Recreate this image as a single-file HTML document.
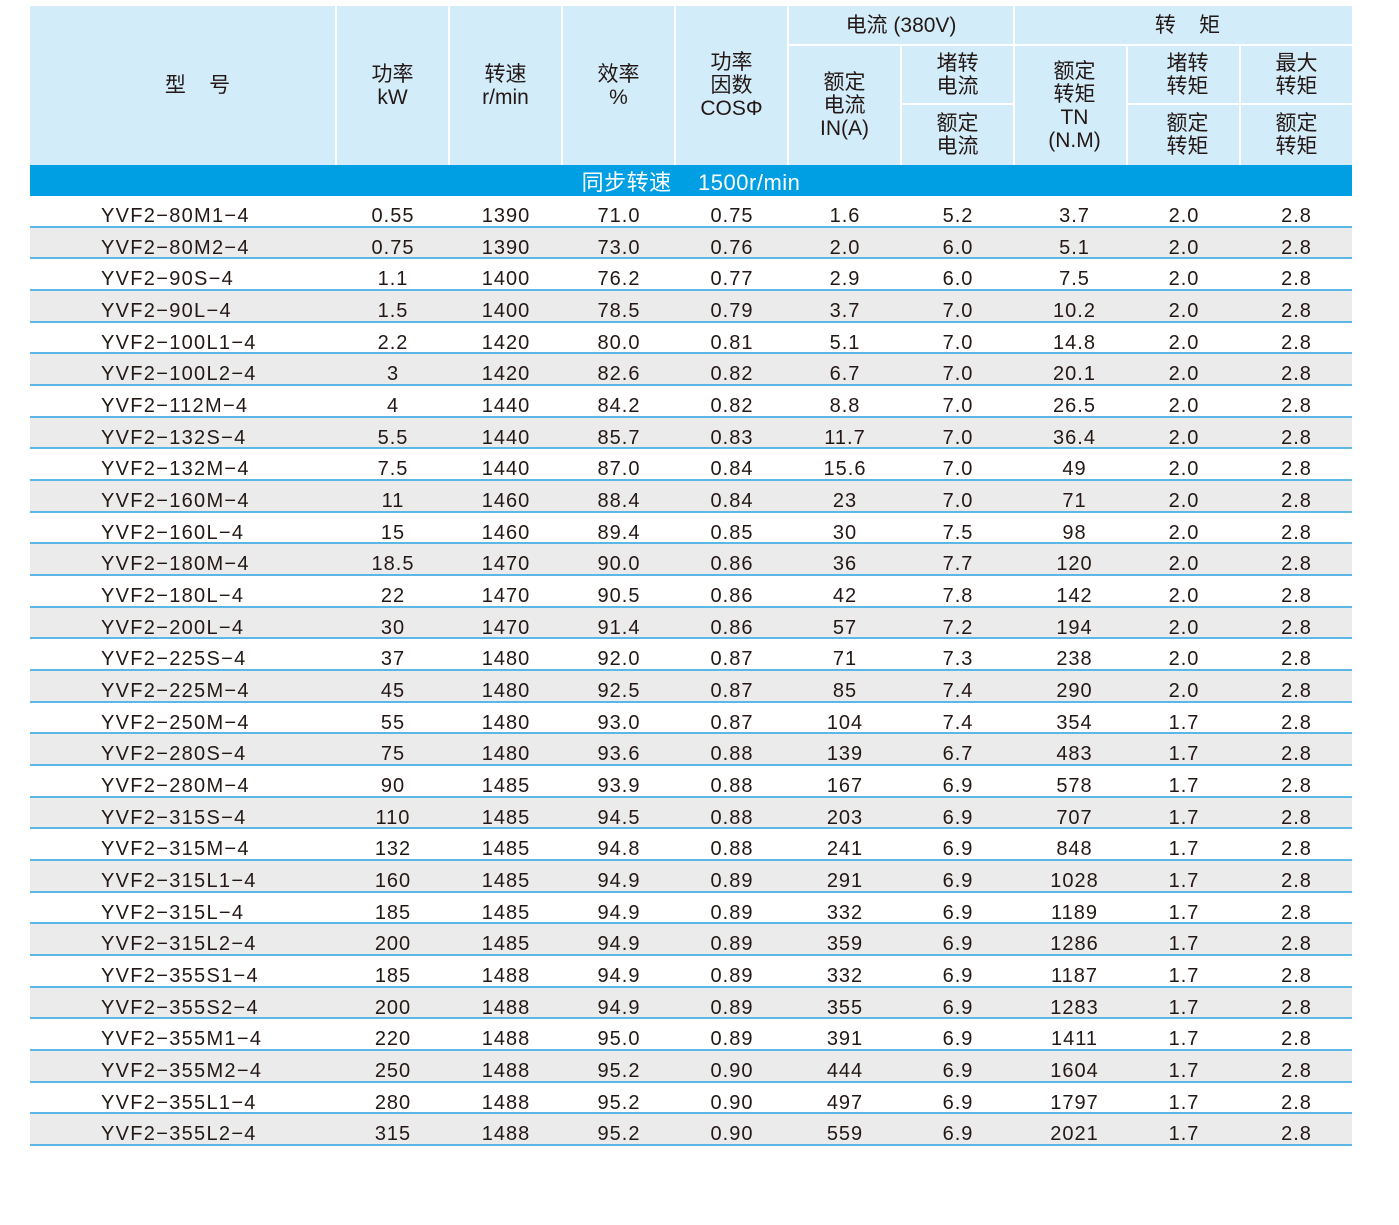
<!DOCTYPE html>
<html><head><meta charset="utf-8">
<style>
*{margin:0;padding:0;box-sizing:border-box}
body{width:1399px;height:1225px;background:#fff;position:relative;overflow:hidden;font-family:"Liberation Sans","Noto Sans CJK SC",sans-serif;color:#231815}
.h{position:absolute;background:#d3ecfa;display:flex;align-items:center;justify-content:center;text-align:center;font-size:21px;line-height:23px}
.band{position:absolute;left:30px;top:165px;width:1322px;height:31px;background:#009fe3;color:#fff;font-size:22px;line-height:36px;text-align:center;letter-spacing:0.5px}
.row{position:absolute;left:30px;width:1322px;height:31.67px;display:flex;border-bottom:2px solid #5bb8e6;font-size:20px;line-height:41px;letter-spacing:1px}
.row.g{background:#ebebeb}
.row div{width:113px;text-align:center;padding-left:1px}
.row div:first-child{width:306px;text-align:left;padding-left:71px;letter-spacing:1.3px}
.row div:nth-child(8){padding-left:8px}
.row div:last-child{width:112px}
</style></head><body>
<div class="h" style="left:30px;top:6px;width:305px;height:159px;padding-left:30px">型&nbsp;&nbsp;&nbsp;&nbsp;号</div>
<div class="h" style="left:337px;top:6px;width:111px;height:159px">功率<br>kW</div>
<div class="h" style="left:450px;top:6px;width:111px;height:159px">转速<br>r/min</div>
<div class="h" style="left:563px;top:6px;width:111px;height:159px">效率<br>%</div>
<div class="h" style="left:676px;top:6px;width:111px;height:159px">功率<br>因数<br>COSΦ</div>
<div class="h" style="left:789px;top:6px;width:224px;height:38px">电流 (380V)</div>
<div class="h" style="left:1015px;top:6px;width:337px;height:38px;padding-left:8px">转&nbsp;&nbsp;&nbsp;&nbsp;矩</div>
<div class="h" style="left:789px;top:46px;width:111px;height:119px">额定<br>电流<br>IN(A)</div>
<div class="h" style="left:902px;top:46px;width:111px;height:57px">堵转<br>电流</div>
<div class="h" style="left:902px;top:105px;width:111px;height:60px">额定<br>电流</div>
<div class="h" style="left:1015px;top:46px;width:111px;height:119px;padding-left:8px">额定<br>转矩<br>TN<br>(N.M)</div>
<div class="h" style="left:1128px;top:46px;width:111px;height:57px;padding-left:8px">堵转<br>转矩</div>
<div class="h" style="left:1128px;top:105px;width:111px;height:60px;padding-left:8px">额定<br>转矩</div>
<div class="h" style="left:1241px;top:46px;width:111px;height:57px">最大<br>转矩</div>
<div class="h" style="left:1241px;top:105px;width:111px;height:60px">额定<br>转矩</div>
<div class="band">同步转速&nbsp;&nbsp;&nbsp;&nbsp;1500r/min</div>
<div class="row" style="top:196.0px"><div>YVF2−80M1−4</div><div>0.55</div><div>1390</div><div>71.0</div><div>0.75</div><div>1.6</div><div>5.2</div><div>3.7</div><div>2.0</div><div>2.8</div></div>
<div class="row g" style="top:227.7px"><div>YVF2−80M2−4</div><div>0.75</div><div>1390</div><div>73.0</div><div>0.76</div><div>2.0</div><div>6.0</div><div>5.1</div><div>2.0</div><div>2.8</div></div>
<div class="row" style="top:259.3px"><div>YVF2−90S−4</div><div>1.1</div><div>1400</div><div>76.2</div><div>0.77</div><div>2.9</div><div>6.0</div><div>7.5</div><div>2.0</div><div>2.8</div></div>
<div class="row g" style="top:291.0px"><div>YVF2−90L−4</div><div>1.5</div><div>1400</div><div>78.5</div><div>0.79</div><div>3.7</div><div>7.0</div><div>10.2</div><div>2.0</div><div>2.8</div></div>
<div class="row" style="top:322.7px"><div>YVF2−100L1−4</div><div>2.2</div><div>1420</div><div>80.0</div><div>0.81</div><div>5.1</div><div>7.0</div><div>14.8</div><div>2.0</div><div>2.8</div></div>
<div class="row g" style="top:354.3px"><div>YVF2−100L2−4</div><div>3</div><div>1420</div><div>82.6</div><div>0.82</div><div>6.7</div><div>7.0</div><div>20.1</div><div>2.0</div><div>2.8</div></div>
<div class="row" style="top:386.0px"><div>YVF2−112M−4</div><div>4</div><div>1440</div><div>84.2</div><div>0.82</div><div>8.8</div><div>7.0</div><div>26.5</div><div>2.0</div><div>2.8</div></div>
<div class="row g" style="top:417.7px"><div>YVF2−132S−4</div><div>5.5</div><div>1440</div><div>85.7</div><div>0.83</div><div>11.7</div><div>7.0</div><div>36.4</div><div>2.0</div><div>2.8</div></div>
<div class="row" style="top:449.4px"><div>YVF2−132M−4</div><div>7.5</div><div>1440</div><div>87.0</div><div>0.84</div><div>15.6</div><div>7.0</div><div>49</div><div>2.0</div><div>2.8</div></div>
<div class="row g" style="top:481.0px"><div>YVF2−160M−4</div><div>11</div><div>1460</div><div>88.4</div><div>0.84</div><div>23</div><div>7.0</div><div>71</div><div>2.0</div><div>2.8</div></div>
<div class="row" style="top:512.7px"><div>YVF2−160L−4</div><div>15</div><div>1460</div><div>89.4</div><div>0.85</div><div>30</div><div>7.5</div><div>98</div><div>2.0</div><div>2.8</div></div>
<div class="row g" style="top:544.4px"><div>YVF2−180M−4</div><div>18.5</div><div>1470</div><div>90.0</div><div>0.86</div><div>36</div><div>7.7</div><div>120</div><div>2.0</div><div>2.8</div></div>
<div class="row" style="top:576.0px"><div>YVF2−180L−4</div><div>22</div><div>1470</div><div>90.5</div><div>0.86</div><div>42</div><div>7.8</div><div>142</div><div>2.0</div><div>2.8</div></div>
<div class="row g" style="top:607.7px"><div>YVF2−200L−4</div><div>30</div><div>1470</div><div>91.4</div><div>0.86</div><div>57</div><div>7.2</div><div>194</div><div>2.0</div><div>2.8</div></div>
<div class="row" style="top:639.4px"><div>YVF2−225S−4</div><div>37</div><div>1480</div><div>92.0</div><div>0.87</div><div>71</div><div>7.3</div><div>238</div><div>2.0</div><div>2.8</div></div>
<div class="row g" style="top:671.0px"><div>YVF2−225M−4</div><div>45</div><div>1480</div><div>92.5</div><div>0.87</div><div>85</div><div>7.4</div><div>290</div><div>2.0</div><div>2.8</div></div>
<div class="row" style="top:702.7px"><div>YVF2−250M−4</div><div>55</div><div>1480</div><div>93.0</div><div>0.87</div><div>104</div><div>7.4</div><div>354</div><div>1.7</div><div>2.8</div></div>
<div class="row g" style="top:734.4px"><div>YVF2−280S−4</div><div>75</div><div>1480</div><div>93.6</div><div>0.88</div><div>139</div><div>6.7</div><div>483</div><div>1.7</div><div>2.8</div></div>
<div class="row" style="top:766.1px"><div>YVF2−280M−4</div><div>90</div><div>1485</div><div>93.9</div><div>0.88</div><div>167</div><div>6.9</div><div>578</div><div>1.7</div><div>2.8</div></div>
<div class="row g" style="top:797.7px"><div>YVF2−315S−4</div><div>110</div><div>1485</div><div>94.5</div><div>0.88</div><div>203</div><div>6.9</div><div>707</div><div>1.7</div><div>2.8</div></div>
<div class="row" style="top:829.4px"><div>YVF2−315M−4</div><div>132</div><div>1485</div><div>94.8</div><div>0.88</div><div>241</div><div>6.9</div><div>848</div><div>1.7</div><div>2.8</div></div>
<div class="row g" style="top:861.1px"><div>YVF2−315L1−4</div><div>160</div><div>1485</div><div>94.9</div><div>0.89</div><div>291</div><div>6.9</div><div>1028</div><div>1.7</div><div>2.8</div></div>
<div class="row" style="top:892.7px"><div>YVF2−315L−4</div><div>185</div><div>1485</div><div>94.9</div><div>0.89</div><div>332</div><div>6.9</div><div>1189</div><div>1.7</div><div>2.8</div></div>
<div class="row g" style="top:924.4px"><div>YVF2−315L2−4</div><div>200</div><div>1485</div><div>94.9</div><div>0.89</div><div>359</div><div>6.9</div><div>1286</div><div>1.7</div><div>2.8</div></div>
<div class="row" style="top:956.1px"><div>YVF2−355S1−4</div><div>185</div><div>1488</div><div>94.9</div><div>0.89</div><div>332</div><div>6.9</div><div>1187</div><div>1.7</div><div>2.8</div></div>
<div class="row g" style="top:987.7px"><div>YVF2−355S2−4</div><div>200</div><div>1488</div><div>94.9</div><div>0.89</div><div>355</div><div>6.9</div><div>1283</div><div>1.7</div><div>2.8</div></div>
<div class="row" style="top:1019.4px"><div>YVF2−355M1−4</div><div>220</div><div>1488</div><div>95.0</div><div>0.89</div><div>391</div><div>6.9</div><div>1411</div><div>1.7</div><div>2.8</div></div>
<div class="row g" style="top:1051.1px"><div>YVF2−355M2−4</div><div>250</div><div>1488</div><div>95.2</div><div>0.90</div><div>444</div><div>6.9</div><div>1604</div><div>1.7</div><div>2.8</div></div>
<div class="row" style="top:1082.8px"><div>YVF2−355L1−4</div><div>280</div><div>1488</div><div>95.2</div><div>0.90</div><div>497</div><div>6.9</div><div>1797</div><div>1.7</div><div>2.8</div></div>
<div class="row g" style="top:1114.4px"><div>YVF2−355L2−4</div><div>315</div><div>1488</div><div>95.2</div><div>0.90</div><div>559</div><div>6.9</div><div>2021</div><div>1.7</div><div>2.8</div></div>
</body></html>
